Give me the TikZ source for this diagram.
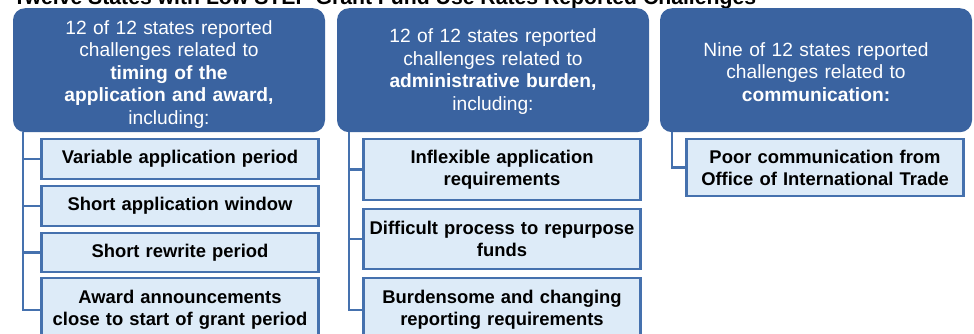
\documentclass[tikz,border=0pt]{standalone}
\usepackage{fontspec}
\setmainfont{Liberation Sans}
\definecolor{hdrblue}{HTML}{3A63A0}
\definecolor{boxfill}{HTML}{DDEBF8}
\definecolor{boxline}{HTML}{4571AE}
\begin{document}
\begin{tikzpicture}[x=1pt,y=-1pt,
  header/.style={fill=hdrblue, rounded corners=12pt, minimum width=312pt, minimum height=124pt,
    text width=304pt, align=center, text=white, inner sep=0pt, anchor=north,
    font=\fontsize{19.2}{22.5}\selectfont},
  item/.style={draw=boxline, line width=2.6pt, fill=boxfill, minimum width=277pt, text width=272pt,
    align=center, inner sep=0pt, font=\bfseries\fontsize{18.4}{22}\selectfont},
  conn/.style={draw=boxline, line width=2.6pt}]
\useasboundingbox (0,0) rectangle (974,333);
\clip (0,0) rectangle (974,333);
\node[anchor=base west, inner sep=0pt, font=\bfseries\fontsize{21.2}{24}\selectfont] (title) at (13,4)
  {Twelve States with Low STEP Grant Fund Use Rates Reported Challenges};
% headers
\node[header] (h1) at (169,8) {\rule{0pt}{22pt}12 of 12 states reported\\challenges related to\\\textbf{timing of the}\\\textbf{application and award,}\\including:};
\node[header] (h2) at (493,8) {\rule{0pt}{17pt}12 of 12 states reported\\challenges related to\\\textbf{administrative burden,}\\including:};
\node[header] (h3) at (816,8) {\rule{0pt}{17pt}Nine of 12 states reported\\challenges related to\\\textbf{communication:}};
% column 1
\node[item, minimum height=40pt] (a1) at (180,159) {Variable application period};
\node[item, minimum height=40pt] (a2) at (180,206) {Short application window};
\node[item, minimum height=39pt] (a3) at (180,252.5) {Short rewrite period};
\node[item, minimum height=64pt] (a4) at (180,310) {Award announcements\\close to start of grant period};
% column 2
\node[item, minimum height=61pt] (b1) at (502,169.5) {Inflexible application\\requirements};
\node[item, minimum height=60pt] (b2) at (502,239) {Difficult process to repurpose\\funds};
\node[item, minimum height=64pt] (b3) at (502,310) {Burdensome and changing\\reporting requirements};
% column 3
\node[item, minimum height=57pt] (c1) at (825,167.5) {Poor communication from\\Office of International Trade};
% connectors
\foreach \n in {a1,a2,a3,a4} \draw[conn] ([xshift=10pt]h1.south west) |- (\n.west);
\foreach \n in {b1,b2,b3} \draw[conn] ([xshift=12pt]h2.south west) |- (\n.west);
\draw[conn] ([xshift=12pt]h3.south west) |- (c1.west);
\end{tikzpicture}
\end{document}
